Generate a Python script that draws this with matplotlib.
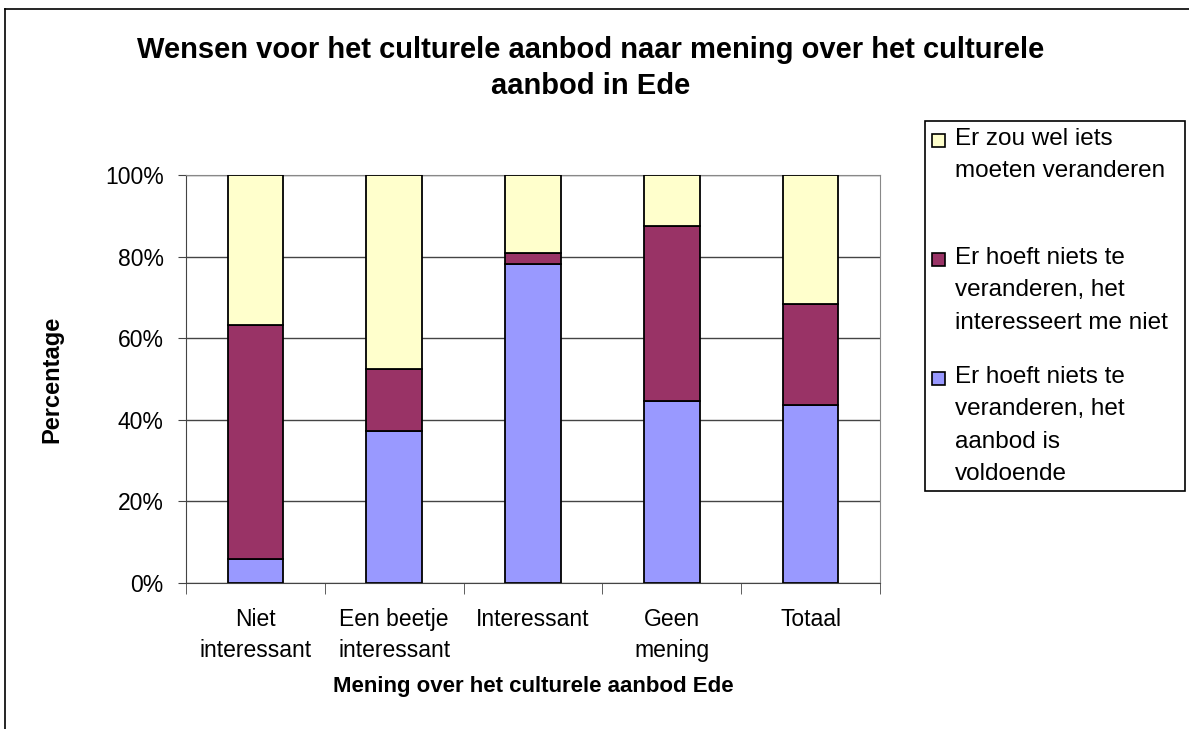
import matplotlib
matplotlib.use('Agg')
import matplotlib.pyplot as plt
import numpy as np
from matplotlib.lines import Line2D
from matplotlib.patches import Rectangle

plt.rcParams['font.family'] = ['Liberation Sans', 'DejaVu Sans']

categories = ["Niet\ninteressant", "Een beetje\ninteressant", "Interessant", "Geen\nmening", "Totaal"]
voldoende = [5.9, 37.3, 78.3, 44.6, 43.6]
interesseert_niet = [57.3, 15.1, 2.5, 43.0, 24.9]
veranderen = [36.8, 47.6, 19.2, 12.4, 31.5]

# legend order as shown (top to bottom)
legend_labels = [["Er zou wel iets", "moeten veranderen"],
                 ["Er hoeft niets te", "veranderen, het", "interesseert me niet"],
                 ["Er hoeft niets te", "veranderen, het", "aanbod is", "voldoende"]]
colors = ["#FFFFCC", "#993366", "#9999FF"]

W, H = 1189, 729
fig = plt.figure(figsize=(W / 100, H / 100), dpi=100)

# outer chart border (cropped at right/bottom)
fig.add_artist(Line2D([5 / W, 1], [1 - 9 / H, 1 - 9 / H], color='black', lw=1.2))
fig.add_artist(Line2D([5 / W, 5 / W], [0, 1 - 9 / H], color='black', lw=1.2))

ax = fig.add_axes([186 / W, 1 - 583 / H, (880 - 186) / W, (583 - 175) / H])

x = np.arange(len(categories))
w = 0.4
ax.bar(x, voldoende, w, color=colors[2], edgecolor='black', lw=1.3, zorder=3)
bottom2 = np.array(voldoende)
ax.bar(x, interesseert_niet, w, bottom=bottom2, color=colors[1], edgecolor='black', lw=1.3, zorder=3)
bottom3 = bottom2 + np.array(interesseert_niet)
ax.bar(x, veranderen, w, bottom=bottom3, color=colors[0], edgecolor='black', lw=1.3, zorder=3)

ax.set_xlim(-0.5, len(categories) - 0.5)
ax.set_ylim(0, 100)
ax.set_yticks(np.arange(0, 101, 20))
ax.set_yticklabels([f"{v}%" for v in range(0, 101, 20)], fontsize=16.5)
ax.yaxis.grid(True, color='#444444', lw=1)
ax.set_axisbelow(True)

ax.set_xticks(x)
ax.set_xticklabels(categories, fontsize=16.5, linespacing=1.45)
ax.set_xticks(np.arange(-0.5, len(categories), 1), minor=True)
ax.tick_params(axis='x', which='major', length=0, pad=18)
ax.tick_params(axis='x', which='minor', length=8, color='#444444')
ax.tick_params(axis='y', length=6, color='#444444', pad=10)

for s in ['top', 'right']:
    ax.spines[s].set_color('#888888')
for s in ['left', 'bottom']:
    ax.spines[s].set_color('#444444')

ax.set_ylabel("Percentage", fontsize=17, fontweight='bold', labelpad=30)
ax.set_xlabel("Mening over het culturele aanbod Ede", fontsize=16, fontweight='bold', labelpad=10)

fig.text(591 / W, 1 - 68 / H,
         "Wensen voor het culturele aanbod naar mening over het culturele\naanbod in Ede",
         ha='center', va='center', fontsize=21, fontweight='bold', linespacing=1.33)

# legend box drawn by hand so the keys sit on the first line of each entry
fig.add_artist(Rectangle((925 / W, 1 - 491 / H), (1185 - 925) / W, (491 - 121) / H,
                         transform=fig.transFigure, facecolor='white', edgecolor='black', lw=1.2))
first_lines = [139, 258, 377]
line_h = 32.4
legend_colors = [colors[0], colors[1], colors[2]]
for lines, y0, c in zip(legend_labels, first_lines, legend_colors):
    fig.add_artist(Rectangle((932 / W, 1 - (y0 + 8) / H), 13 / W, 13 / H,
                             transform=fig.transFigure, facecolor=c, edgecolor='black', lw=1.2))
    for i, line in enumerate(lines):
        fig.text(955 / W, 1 - (y0 + i * line_h) / H, line, ha='left', va='center', fontsize=17.5)

fig.savefig("out.png", dpi=100)
